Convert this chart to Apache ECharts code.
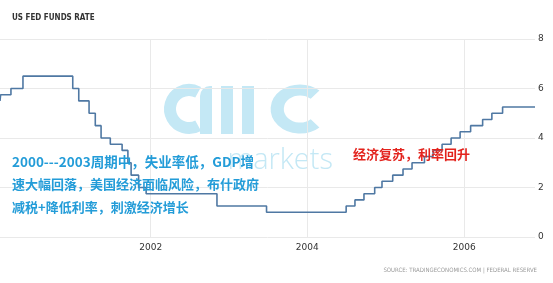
<!DOCTYPE html>
<html><head><meta charset="utf-8">
<script src="https://cdn.jsdelivr.net/npm/echarts@6/dist/echarts.min.js"></script>
<style>html,body{margin:0;padding:0;background:#fff}#c{width:553px;height:283px}</style>
</head><body><div id="c"></div>
<script>
const title = 'US FED FUNDS RATE';
const source = 'SOURCE: TRADINGECONOMICS.COM | FEDERAL RESERVE';
const changeDates = ['2000-01-30','2000-02-02','2000-03-21','2000-05-16','2001-01-03','2001-01-31','2001-03-20','2001-04-18','2001-05-15','2001-06-27','2001-08-21','2001-09-17','2001-10-02','2001-11-06','2001-12-11','2002-11-06','2003-06-25','2004-06-30','2004-08-10','2004-09-21','2004-11-10','2004-12-14','2005-02-02','2005-03-22','2005-05-03','2005-06-30','2005-08-09','2005-09-20','2005-11-01','2005-12-13','2006-01-31','2006-03-28','2006-05-10','2006-06-29','2006-11-27'];
const rates = [5.5,5.75,6.0,6.5,6.0,5.5,5.0,4.5,4.0,3.75,3.5,3.0,2.5,2.0,1.75,1.25,1.0,1.25,1.5,1.75,2.0,2.25,2.5,2.75,3.0,3.25,3.5,3.75,4.0,4.25,4.5,4.75,5.0,5.25,5.25];
const yearTicks = ['2002-01-01','2004-01-01','2006-01-01'];
const yTicks = [0,2,4,6,8];
const noteBlue = ['2000---2003周期中，失业率低，GDP增','速大幅回落，美国经济面临风险，布什政府','减税+降低利率，刺激经济增长'];
const noteRed = '经济复苏，利率回升';

const ts = d => Date.parse(d + 'T00:00:00Z');
const chart = echarts.init(document.getElementById('c'));
const seriesData = changeDates.map((d,i)=>[ts(d), rates[i]]);
const tickTimes = yearTicks.map(ts);
const wm = '#c4e8f5';
chart.setOption({
  animation:false,
  grid:{left:0,right:18,top:39,bottom:46,containLabel:false},
  xAxis:{type:'value',min:ts(changeDates[0]),max:ts(changeDates[changeDates.length-1]),
    axisLine:{show:false},
    axisTick:{show:false,customValues:tickTimes},
    splitLine:{show:false},
    axisLabel:{customValues:tickTimes,margin:6,color:'#333',fontSize:9,fontFamily:'DejaVu Sans',
      formatter:v=>String(new Date(v).getUTCFullYear())}
  },
  yAxis:{type:'value',position:'right',min:yTicks[0],max:yTicks[yTicks.length-1],interval:2,
    axisLine:{show:false},axisTick:{show:false},
    axisLabel:{margin:3,color:'#333',fontSize:9,fontFamily:'DejaVu Sans'},
    splitLine:{lineStyle:{color:'#e9e9e9',width:1}}
  },
  series:[{type:'line',step:'end',data:seriesData,showSymbol:false,z:3,
    lineStyle:{color:'#4f78a3',width:1.6},
    markLine:{silent:true,symbol:'none',label:{show:false},z:1,
      lineStyle:{color:'#e9e9e9',width:1,type:'solid'},
      data:tickTimes.map(t=>({xAxis:t}))}
  }],
  graphic:[
    {type:'text',left:12,top:14,z:10,style:{text:title,fill:'#333',font:'bold 8px "DejaVu Sans Condensed"'}},
    {type:'text',right:16,top:267,z:10,style:{text:source,fill:'#9a9a9a',font:'6px "DejaVu Sans Condensed"'}},
    {type:'arc',z:0,shape:{cx:189,cy:109,r:19,startAngle:Math.PI*0.34,endAngle:Math.PI*1.66},style:{stroke:wm,lineWidth:12,fill:null}},
    {type:'rect',z:0,shape:{x:200,y:86,width:12,height:48,r:[10,0,0,0]},style:{fill:wm}},
    {type:'rect',z:0,shape:{x:221,y:86,width:12,height:48},style:{fill:wm}},
    {type:'rect',z:0,shape:{x:242,y:86,width:12,height:48},style:{fill:wm}},
    {type:'arc',z:0,originX:300,originY:109,scaleX:1.2,shape:{cx:300,cy:109,r:19,startAngle:Math.PI*0.27,endAngle:Math.PI*1.73},style:{stroke:wm,lineWidth:11,fill:null}},
    {type:'text',z:0,right:220,top:146,style:{text:'markets',fill:wm,font:'300 29px "Open Sans"'}},
    {type:'text',left:12,top:155,z:10,style:{text:noteBlue[0],fill:'#239cd8',font:'bold 13.5px "Noto Sans CJK SC"'}},
    {type:'text',left:12,top:178,z:10,style:{text:noteBlue[1],fill:'#239cd8',font:'bold 13px "Noto Sans CJK SC"'}},
    {type:'text',left:12,top:201,z:10,style:{text:noteBlue[2],fill:'#239cd8',font:'bold 13px "Noto Sans CJK SC"'}},
    {type:'text',left:353,top:148,z:10,style:{text:noteRed,fill:'#e3231d',font:'bold 13px "Noto Sans CJK SC"'}}
  ]
});
</script></body></html>
